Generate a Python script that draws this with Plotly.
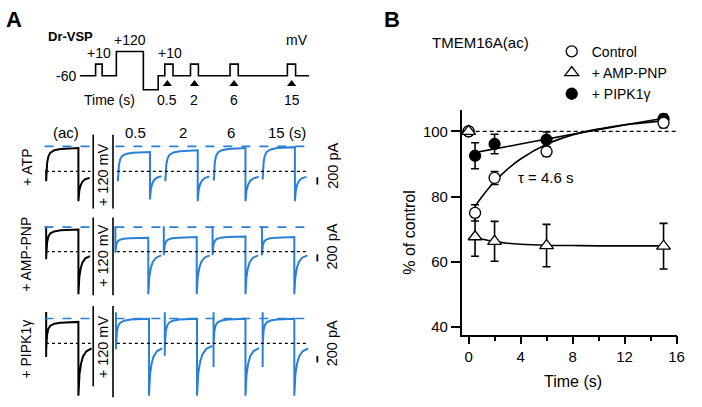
import plotly.graph_objects as go

FONT = "Arial, Liberation Sans, sans-serif"
BLUE = "#2a7fd6"

# ---------------- Panel B data ----------------
time_s = [0, 0.5, 2, 6, 15]
control = [100, 75.0, 85.7, 93.8, 102.6]
control_err = [0, 2.5, 2.0, 1.5, 1.5]
amppnp = [100, 67.7, 66.3, 65.0, 64.8]
amppnp_err = [0, 6.0, 6.1, 6.5, 7.0]
pipk = [100, 92.5, 96.1, 97.4, 103.8]
pipk_err = [0, 4.0, 3.0, 2.4, 1.4]

fit_ctrl_t = [0.5, 1, 2, 3, 4, 6, 8, 10, 12, 15]
fit_ctrl = [77.0, 79.8, 84.6, 88.4, 91.5, 96.0, 98.9, 100.7, 102.0, 103.2]
fit_pipk_t = [0.5, 2, 4, 6, 8, 10, 12, 15]
fit_pipk = [93.5, 94.6, 96.1, 97.6, 99.1, 100.5, 101.9, 104.0]
fit_amp_t = [0.5, 1, 2, 3, 4, 6, 8, 10, 15]
fit_amp = [67.5, 67.0, 66.2, 65.7, 65.4, 65.1, 65.0, 64.9, 64.9]

x_ticks = [0, 4, 8, 12, 16]
y_ticks = [40, 60, 80, 100]

# ---------------- Panel A data (schematic units) ----------------
proto_x = [81, 96.7, 96.7, 103.3, 103.3, 117.7, 117.7, 145, 145, 160, 160, 166.7,
           166.7, 175, 175, 192.7, 192.7, 200.7, 200.7, 232.7, 232.7, 241, 241,
           290.7, 290.7, 299, 299, 312.7]
proto_y = [76, 76, 64.3, 64.3, 76, 76, 51.7, 51.7, 90, 90, 76, 76,
           64.3, 64.3, 76, 76, 64.3, 64.3, 76, 76, 64.3, 64.3, 76,
           76, 64.3, 64.3, 76, 76]
test_marks_x = [169.3, 196.7, 236.7, 295]
test_marks_y = [84.3, 84.3, 84.3, 84.3]
test_labels = ["0.5", "2", "6", "15"]

# current-trace template (fraction of step duration / fraction of amplitude)
rise_frac_t = [0, 0.03, 0.07, 0.13, 0.25, 0.45, 0.7, 1.0]
rise_frac_a = [0, 0.55, 0.75, 0.86, 0.93, 0.97, 0.99, 1.0]
tail_frac_t = [0, 0.08, 0.2, 0.35, 0.6, 1.0]
tail_frac_a = [0, 0.45, 0.68, 0.83, 0.94, 1.0]

# each sweep: x_start, x_drop, artifact_top, artifact_bottom, y_start, y_plateau, y_spike, y_tail, x_tail_end
black_sweeps = [
    [46.7, 79.3, 170, 181.7, 181.7, 148.3, 201.7, 178.3, 90.7],
    [46.7, 79.3, 226.7, 260, 258, 230, 295, 256.7, 91],
    [46.7, 79.3, 312.7, 358, 350, 322.7, 396.7, 349.3, 92.7],
]
atp_sweeps = [
    [119.3, 151.7, 176.7, 181.7, 181.7, 152.3, 200, 176.7, 163.3],
    [167.3, 200, 176.7, 181.7, 181.7, 150.7, 201.7, 177, 211.7],
    [216.3, 248.3, 177, 181, 181, 148.3, 201.7, 177.3, 261.7],
    [265.7, 298.3, 177.3, 180, 180, 147.5, 201.7, 177.3, 310],
]
amp_sweeps = [
    [116.7, 150, 226.7, 253.3, 253.3, 238.3, 295, 256, 163],
    [165.7, 199, 226.7, 256, 255, 237.7, 295, 256, 212],
    [215, 248.3, 226.7, 256, 255, 237, 295, 256, 261],
    [265, 297.7, 226.7, 256, 255, 237.7, 295, 256, 311],
]
pipk_sweeps = [
    [117.3, 150.7, 313, 350, 348, 319.5, 396.7, 349.3, 164],
    [166.7, 199.3, 313, 356.7, 348, 319.5, 396.7, 346.7, 215],
    [216, 248.3, 313, 368, 345, 319.5, 396.7, 349, 262],
    [265.7, 297.7, 313, 368, 345, 319.5, 396.7, 349.3, 311.7],
]

row_names = ["+ ATP", "+ AMP-PNP", "+ PIPK1\u03b3"]
row_dashed_y = [146.7, 227.7, 319.3]
row_dotted_y = [171.7, 252.3, 344.3]


def build_sweeps(sweeps):
    xs, ys = [], []
    for x0, x1, a_top, a_bot, y0, yp, ys_, yt, xt in sweeps:
        xs += [x0, x0]
        ys += [a_top, a_bot]
        for ft, fa in zip(rise_frac_t, rise_frac_a):
            xs.append(x0 + ft * (x1 - x0))
            ys.append(y0 + fa * (yp - y0))
        for ft, fa in zip(tail_frac_t, tail_frac_a):
            xs.append(x1 + ft * (xt - x1))
            ys.append(ys_ + fa * (yt - ys_))
        xs.append(None)
        ys.append(None)
    return xs, ys


fig = go.Figure()

# ---- Panel B traces ----
for y, e in [(pipk, pipk_err), (control, control_err), (amppnp, amppnp_err)]:
    fig.add_trace(go.Scatter(
        x=time_s, y=y, mode="markers", showlegend=False, hoverinfo="skip",
        marker=dict(size=2, color="rgba(0,0,0,0)"),
        error_y=dict(type="data", array=e, color="black", thickness=1.6, width=4),
        xaxis="x", yaxis="y"))

fig.add_trace(go.Scatter(x=[-0.53, 16.2], y=[100, 100], mode="lines", showlegend=False,
                         line=dict(color="black", width=1.3, dash="4px,3px"),
                         hoverinfo="skip", cliponaxis=False))
for tx, ty in [(fit_ctrl_t, fit_ctrl), (fit_pipk_t, fit_pipk), (fit_amp_t, fit_amp)]:
    fig.add_trace(go.Scatter(x=tx, y=ty, mode="lines", showlegend=False,
                             line=dict(color="black", width=1.6, shape="spline"),
                             hoverinfo="skip"))

fig.add_trace(go.Scatter(x=time_s, y=pipk, mode="markers", name="+ PIPK1\u03b3", legendrank=3,
                         marker=dict(symbol="circle", size=11, color="black",
                                     line=dict(color="black", width=1.3))))
fig.add_trace(go.Scatter(x=time_s, y=control, mode="markers", name="Control", legendrank=1,
                         marker=dict(symbol="circle", size=11, color="white",
                                     line=dict(color="black", width=1.3))))
fig.add_trace(go.Scatter(x=time_s, y=amppnp, mode="markers", name="+ AMP-PNP", legendrank=2,
                         marker=dict(symbol="triangle-up", size=12, color="white",
                                     line=dict(color="black", width=1.3))))

# ---- Panel A traces ----
fig.add_trace(go.Scatter(x=proto_x, y=proto_y, mode="lines", showlegend=False,
                         line=dict(color="black", width=1.6), xaxis="x2", yaxis="y2",
                         hoverinfo="skip"))
fig.add_trace(go.Scatter(x=test_marks_x, y=test_marks_y, mode="markers", showlegend=False,
                         marker=dict(symbol="triangle-up", size=8, color="black"),
                         xaxis="x2", yaxis="y2", hoverinfo="skip"))

bx, by = build_sweeps(black_sweeps)
fig.add_trace(go.Scatter(x=bx, y=by, mode="lines", showlegend=False,
                         line=dict(color="black", width=2), xaxis="x2", yaxis="y2",
                         hoverinfo="skip"))
for sw in (atp_sweeps, amp_sweeps, pipk_sweeps):
    sx, sy = build_sweeps(sw)
    fig.add_trace(go.Scatter(x=sx, y=sy, mode="lines", showlegend=False,
                             line=dict(color=BLUE, width=2), xaxis="x2", yaxis="y2",
                             hoverinfo="skip"))

shapes = []
for dy, ty in zip(row_dashed_y, row_dotted_y):
    for xa, xb in [(45, 91.7), (116.7, 312)]:
        shapes.append(dict(type="line", xref="x2", yref="y2", x0=xa, x1=xb, y0=dy, y1=dy,
                           line=dict(color=BLUE, width=1.6, dash="dash")))
        shapes.append(dict(type="line", xref="x2", yref="y2", x0=xa + 1.5, x1=xb, y0=ty, y1=ty,
                           line=dict(color="black", width=1.2, dash="dot")))
for (ya, yb), (yc, yd) in [((135, 209), (135, 209)), ((218, 296), (218, 296)),
                           ((306.7, 387.3), (306.7, 398.3))]:
    shapes.append(dict(type="line", xref="x2", yref="y2", x0=94.3, x1=94.3, y0=ya, y1=yb,
                       line=dict(color="black", width=1.6)))
    shapes.append(dict(type="line", xref="x2", yref="y2", x0=114.3, x1=114.3, y0=yc, y1=yd,
                       line=dict(color="black", width=1.6)))
for ya, yb in [(177.7, 185), (255, 262), (356.7, 363.3)]:
    shapes.append(dict(type="line", xref="x2", yref="y2", x0=321, x1=321, y0=ya, y1=yb,
                       line=dict(color="black", width=1.8)))

ann = []


def A(text, x, y, size=14, bold=False, angle=0, xanchor="center"):
    ann.append(dict(text=("<b>%s</b>" % text) if bold else text, x=x, y=y, xref="x2", yref="y2",
                    showarrow=False, textangle=angle, xanchor=xanchor, yanchor="middle",
                    font=dict(family=FONT, size=size, color="black")))


A("A", 14, 20, 22, True)
A("B", 397, 20, 22, True)
A("Dr-VSP", 71.7, 36.5, 13, True)
A("+10", 100, 53.3)
A("+120", 131.7, 40)
A("+10", 171.7, 53.3)
A("mV", 300, 40)
A("-60", 79, 76, xanchor="right")
A("Time (s)", 110.7, 100.5)
for lx, lt in zip(test_marks_x, test_labels):
    A(lt, lx, 100.5)
A("(ac)", 66.7, 133.3, 15)
for lx, lt in zip([136.7, 185, 233.3, 290], ["0.5", "2", "6", "15 (s)"]):
    A(lt, lx, 133.3, 15)
for name, cy, dy in zip(row_names, [168, 255, 350], row_dashed_y):
    A(name, 26.7, cy, 14, angle=-90)
    A("+ 120 mV", 104.3, dy + 28.8, 14.5, angle=-90)
for cy in [166, 247, 344]:
    A("200 pA", 336, cy, 14.5, angle=-90)
A("TMEM16A(ac)", 486, 43, 15)
A("\u03c4 = 4.6 s", 552, 178, 15)
A("% of control", 414, 233, 16, angle=-90)
A("Time (s)", 580, 382, 16)

fig.update_layout(
    width=702, height=407, autosize=False, margin=dict(l=0, r=0, t=0, b=0, pad=0),
    paper_bgcolor="white", plot_bgcolor="rgba(0,0,0,0)",
    font=dict(family=FONT, size=15, color="black"),
    showlegend=True,
    legend=dict(x=0.795, y=0.912, xanchor="left", yanchor="top", bgcolor="rgba(0,0,0,0)",
                font=dict(family=FONT, size=14), tracegroupgap=0, itemwidth=30),
    xaxis=dict(domain=[467 / 702, 685 / 702], range=[-0.53, 16.05], tickvals=x_ticks,
               showgrid=False, zeroline=False, showline=True, linecolor="black", linewidth=1.5,
               ticks="outside", ticklen=8, tickwidth=1.5, tickcolor="black",
               tickfont=dict(size=15),
               minor=dict(tickvals=[2, 6, 10, 14], ticks="outside", ticklen=5, tickwidth=1.5,
                          tickcolor="black", showgrid=False),
               anchor="y"),
    yaxis=dict(domain=[(407 - 335.5) / 407, (407 - 110) / 407], range=[37.7, 106.6],
               tickvals=y_ticks, showgrid=False, zeroline=False, showline=True,
               linecolor="black", linewidth=1.5, ticks="outside", ticklen=9, tickwidth=1.5,
               tickcolor="black", tickfont=dict(size=15), anchor="x"),
    xaxis2=dict(domain=[0, 1], range=[0, 702], visible=False, anchor="y2"),
    yaxis2=dict(domain=[0, 1], range=[407, 0], visible=False, anchor="x2"),
    shapes=shapes, annotations=ann,
)

fig.write_html("out.html", config={"displayModeBar": False, "responsive": False},
               post_script="document.body.style.margin='0px';document.body.style.overflow='hidden';")
